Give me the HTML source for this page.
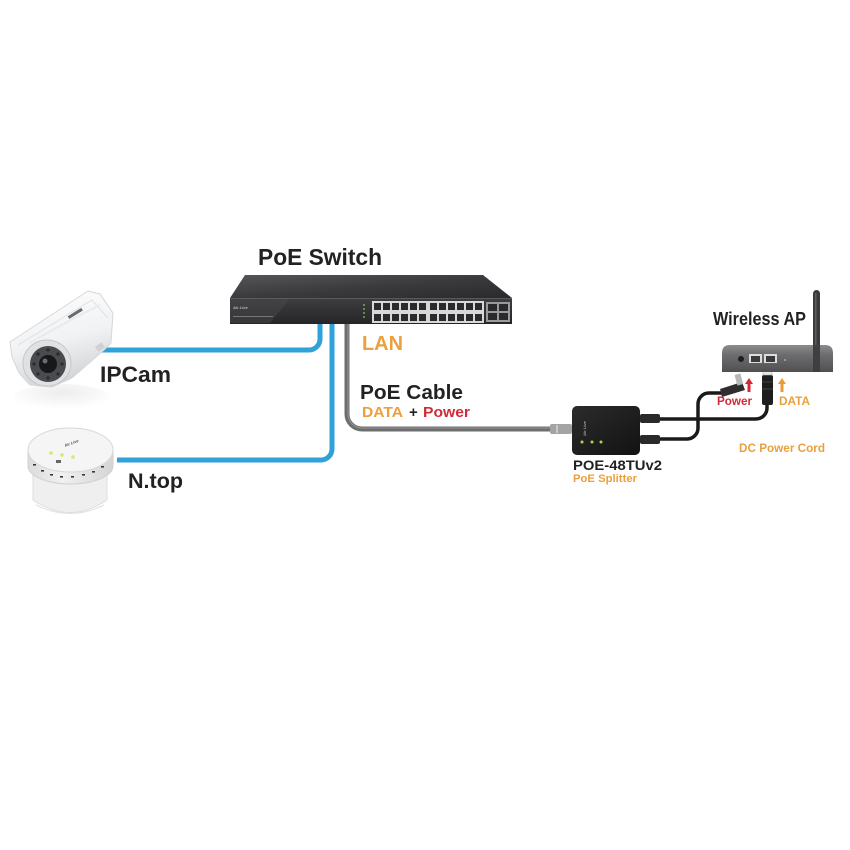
<!DOCTYPE html>
<html><head><meta charset="utf-8"><style>
html,body{margin:0;padding:0;background:#fff;}
svg{display:block;}
text{font-family:"Liberation Sans",Arial,sans-serif;font-weight:bold;}
</style></head><body>
<svg width="850" height="850" viewBox="0 0 850 850" xmlns="http://www.w3.org/2000/svg">
<defs>
<linearGradient id="swTop" x1="0" y1="0" x2="1" y2="1">
<stop offset="0" stop-color="#56565a"/><stop offset="0.5" stop-color="#3b3b3e"/><stop offset="1" stop-color="#2a2a2c"/></linearGradient>
<linearGradient id="swFront" x1="0" y1="0" x2="0" y2="1">
<stop offset="0" stop-color="#3e3e41"/><stop offset="1" stop-color="#262628"/></linearGradient>
<linearGradient id="camBody" x1="0" y1="0" x2="0.3" y2="1">
<stop offset="0" stop-color="#ffffff"/><stop offset="0.6" stop-color="#f1f2f4"/><stop offset="1" stop-color="#d3d5d8"/></linearGradient>
<radialGradient id="refl" cx="0.5" cy="0.3" r="0.6">
<stop offset="0" stop-color="#ededed"/><stop offset="1" stop-color="#ffffff"/></radialGradient>
<linearGradient id="apBody" x1="0" y1="0" x2="0" y2="1">
<stop offset="0" stop-color="#8c8c8e"/><stop offset="0.35" stop-color="#6e6e70"/><stop offset="1" stop-color="#505052"/></linearGradient>
<linearGradient id="splBody" x1="0" y1="0" x2="1" y2="1">
<stop offset="0" stop-color="#2c2c2c"/><stop offset="1" stop-color="#121212"/></linearGradient>
<linearGradient id="ntSide" x1="0" y1="0" x2="1" y2="0">
<stop offset="0" stop-color="#dcdcdc"/><stop offset="0.4" stop-color="#f0f0f0"/><stop offset="1" stop-color="#d4d4d4"/></linearGradient>
</defs>

<!-- ===== Cables ===== -->
<path d="M100,350 H309 A11,11 0 0 0 320,339 V323" fill="none" stroke="#2ea2d9" stroke-width="5"/>
<path d="M117,460 H321 A11,11 0 0 0 332,449 V323" fill="none" stroke="#2ea2d9" stroke-width="5"/>
<path d="M347,323 V414 A15,15 0 0 0 362,429 H552" fill="none" stroke="#6e6e6e" stroke-width="5"/>
<path d="M348,323 V414 A14,14 0 0 0 362,428 H552" fill="none" stroke="#8e8e8e" stroke-width="1.2"/>

<!-- ===== PoE Switch ===== -->
<polygon points="245,275 483,275 512,298 230,298" fill="url(#swTop)"/>
<rect x="230" y="298" width="282" height="26" fill="url(#swFront)"/>
<line x1="230" y1="298.5" x2="512" y2="298.5" stroke="#5a5a5e" stroke-width="1"/>
<polygon points="230,299 290,299 270,323 230,323" fill="#48484b" opacity="0.5"/>
<text x="233" y="309" font-size="4" fill="#bbb" font-style="italic">Air Live</text>
<rect x="233" y="316" width="40" height="1" fill="#777"/>
<g fill="#7fcf5a"><circle cx="364" cy="305" r="0.9"/><circle cx="364" cy="309" r="0.9"/><circle cx="364" cy="313" r="0.9"/><circle cx="364" cy="317" r="0.9"/></g>
<rect x="372" y="301" width="112" height="22" fill="#d8d8d8"/>
<g fill="#2a2a2c">
<rect x="374" y="303" width="7" height="7"/><rect x="383" y="303" width="7" height="7"/><rect x="392" y="303" width="7" height="7"/><rect x="401" y="303" width="7" height="7"/><rect x="410" y="303" width="7" height="7"/><rect x="419" y="303" width="7" height="7"/>
<rect x="430" y="303" width="7" height="7"/><rect x="439" y="303" width="7" height="7"/><rect x="448" y="303" width="7" height="7"/><rect x="457" y="303" width="7" height="7"/><rect x="466" y="303" width="7" height="7"/><rect x="475" y="303" width="7" height="7"/>
<rect x="374" y="314" width="7" height="7"/><rect x="383" y="314" width="7" height="7"/><rect x="392" y="314" width="7" height="7"/><rect x="401" y="314" width="7" height="7"/><rect x="410" y="314" width="7" height="7"/><rect x="419" y="314" width="7" height="7"/>
<rect x="430" y="314" width="7" height="7"/><rect x="439" y="314" width="7" height="7"/><rect x="448" y="314" width="7" height="7"/><rect x="457" y="314" width="7" height="7"/><rect x="466" y="314" width="7" height="7"/><rect x="475" y="314" width="7" height="7"/>
</g>
<rect x="486" y="302" width="24" height="20" fill="#9a9a9c"/>
<g fill="#2a2a2c"><rect x="488" y="304" width="9" height="7"/><rect x="499" y="304" width="9" height="7"/><rect x="488" y="313" width="9" height="7"/><rect x="499" y="313" width="9" height="7"/></g>

<!-- ===== IP Camera ===== -->
<ellipse cx="62" cy="398" rx="48" ry="14" fill="url(#refl)"/>
<path d="M10,342 L88,291 L100,294 L113,313 L111,343 L104,350 L72,378 L52,387 L30,385 L19,373 L12,357 Z" fill="url(#camBody)" stroke="#d6d7da" stroke-width="1"/>
<path d="M18,345 L92,300 L108,318" fill="none" stroke="#e3e4e6" stroke-width="1.2"/>
<path d="M30,343 Q60,325 100,305" fill="none" stroke="#e9eaec" stroke-width="2"/>
<rect x="67" y="312" width="16" height="3" fill="#6a6a6a" transform="rotate(-32 75 313)"/>
<ellipse cx="47" cy="363" rx="24" ry="23" fill="#e0e1e3" stroke="#c6c7c9"/>
<circle cx="48" cy="364" r="18" fill="#4a4b4e"/>
<g fill="#2a2a2c"><circle cx="48" cy="350" r="1.6"/><circle cx="58" cy="354" r="1.6"/><circle cx="62" cy="364" r="1.6"/><circle cx="58" cy="374" r="1.6"/><circle cx="48" cy="378" r="1.6"/><circle cx="38" cy="374" r="1.6"/><circle cx="34" cy="364" r="1.6"/><circle cx="38" cy="354" r="1.6"/></g>
<circle cx="48" cy="364" r="9" fill="#18181a"/>
<circle cx="45" cy="361" r="2.5" fill="#6a6a70"/>
<rect x="96" y="344" width="8" height="6" fill="#cfd0d2" transform="rotate(-35 100 347)"/>

<!-- ===== N.top ===== -->
<path d="M33,474 L33,500 Q70,525 107,500 L107,474 Z" fill="#efefef" stroke="#dedede"/>
<path d="M36,505 Q70,522 104,505" fill="none" stroke="#e0e0e0"/>
<path d="M28,450 L28,466 A42.5,18 0 0 0 113,466 L113,450 Z" fill="url(#ntSide)" stroke="#d2d2d2"/>
<ellipse cx="70.5" cy="450" rx="42.5" ry="22" fill="#f5f5f5" stroke="#d8d8d8"/>
<g fill="#3a3a3a">
<rect x="33" y="464" width="3" height="1.6"/><rect x="41" y="470" width="3" height="1.6"/><rect x="50" y="474" width="3" height="1.6"/><rect x="60" y="476" width="3" height="1.6"/><rect x="71" y="476" width="3" height="1.6"/><rect x="82" y="474" width="3" height="1.6"/><rect x="92" y="471" width="3" height="1.6"/><rect x="101" y="466" width="3" height="1.6"/>
</g>
<g fill="#d9e86a"><circle cx="51" cy="453" r="1.8"/><circle cx="62" cy="455" r="1.8"/><circle cx="73" cy="457" r="1.8"/></g>
<text x="64" y="445" font-size="4" fill="#555" font-style="italic" transform="rotate(-20 70 443)">Air Live</text>
<rect x="56" y="460" width="5" height="3" fill="#666"/>

<!-- ===== PoE Splitter ===== -->
<rect x="550" y="424" width="22" height="10" rx="2" fill="#a4a4a4"/>
<rect x="556" y="425" width="2" height="8" fill="#cacaca"/>
<rect x="572" y="406" width="68" height="49" rx="5" fill="url(#splBody)"/>
<text x="0" y="0" font-size="4" fill="#aaa" font-style="italic" transform="translate(586,436) rotate(-90)">Air Live</text>
<g fill="#a6d84a"><circle cx="582" cy="442" r="1.5"/><circle cx="592" cy="442" r="1.5"/><circle cx="601" cy="442" r="1.5"/></g>
<rect x="640" y="414" width="20" height="9" rx="2" fill="#2a2a2a"/>
<rect x="640" y="435" width="20" height="9" rx="2" fill="#2a2a2a"/>

<!-- ===== black cables ===== -->
<path d="M660,439 H687 A11,11 0 0 0 698,428 V404 A11,11 0 0 1 709,393 H722" fill="none" stroke="#1a1a1a" stroke-width="3.5"/>
<path d="M660,419 H756 A11,11 0 0 0 767,408 V402" fill="none" stroke="#1a1a1a" stroke-width="3.5"/>
<!-- DC plug -->
<polygon points="720,389 742,382 745,390 722,397" fill="#2e2e2e"/>
<rect x="736" y="374" width="6" height="11" fill="#b8b8b8" transform="rotate(-15 739 380)"/>
<!-- RJ45 plug -->
<rect x="762" y="375" width="11" height="30" rx="2" fill="#1e1e1e"/>
<line x1="762" y1="382" x2="773" y2="382" stroke="#444"/><line x1="762" y1="389" x2="773" y2="389" stroke="#444"/>
<rect x="763" y="365" width="9" height="10" fill="#e8e8e8" stroke="#aaa" stroke-width="0.6"/>

<!-- ===== Wireless AP ===== -->
<rect x="813" y="290" width="7" height="80" rx="3.5" fill="#3a3a3c"/>
<rect x="815" y="293" width="1.5" height="72" fill="#5e5e60"/>
<path d="M722,372 L722,353 Q722,345 730,345 L825,345 Q833,345 833,353 L833,372 Z" fill="url(#apBody)"/>
<rect x="813" y="345" width="7" height="27" fill="#3f3f41"/>
<circle cx="741" cy="359" r="3" fill="#1e1e1e"/>
<rect x="749" y="354" width="13" height="9" fill="#dcdcdc"/><rect x="751" y="356" width="9" height="6" fill="#3a3a3a"/>
<rect x="764" y="354" width="13" height="9" fill="#dcdcdc"/><rect x="766" y="356" width="9" height="6" fill="#3a3a3a"/>
<circle cx="785" cy="360" r="1" fill="#aaa"/>

<!-- arrows -->
<polygon points="749,378 753,384 750.5,384 750.5,392 747.5,392 747.5,384 745,384" fill="#d42a33"/>
<polygon points="782,378 786,384 783.5,384 783.5,392 780.5,392 780.5,384 778,384" fill="#ec9a32"/>

<!-- ===== Labels ===== -->
<text x="258" y="265" font-size="23" fill="#222" textLength="124" lengthAdjust="spacingAndGlyphs">PoE Switch</text>
<text x="362" y="350" font-size="20" fill="#e9a03d" textLength="41" lengthAdjust="spacingAndGlyphs">LAN</text>
<text x="360" y="399" font-size="20" fill="#222" textLength="103" lengthAdjust="spacingAndGlyphs">PoE Cable</text>
<text x="362" y="417" font-size="15" fill="#e9a03d" textLength="41" lengthAdjust="spacingAndGlyphs">DATA</text>
<text x="409" y="417" font-size="15" fill="#222">+</text>
<text x="423" y="417" font-size="15" fill="#d02a36" textLength="47" lengthAdjust="spacingAndGlyphs">Power</text>
<text x="100" y="382" font-size="22" fill="#222" textLength="71" lengthAdjust="spacingAndGlyphs">IPCam</text>
<text x="128" y="488" font-size="21" fill="#222" textLength="55" lengthAdjust="spacingAndGlyphs">N.top</text>
<text x="713" y="325" font-size="18" fill="#222" textLength="93" lengthAdjust="spacingAndGlyphs">Wireless AP</text>
<text x="717" y="405" font-size="12" fill="#d02a36" textLength="35" lengthAdjust="spacingAndGlyphs">Power</text>
<text x="779" y="405" font-size="12" fill="#e9a03d" textLength="31" lengthAdjust="spacingAndGlyphs">DATA</text>
<text x="739" y="452" font-size="12" fill="#e9a03d" textLength="86" lengthAdjust="spacingAndGlyphs">DC Power Cord</text>
<text x="573" y="470" font-size="14" fill="#222" textLength="89" lengthAdjust="spacingAndGlyphs">POE-48TUv2</text>
<text x="573" y="482" font-size="11" fill="#e9a03d" textLength="64" lengthAdjust="spacingAndGlyphs">PoE Splitter</text>
</svg>
</body></html>
